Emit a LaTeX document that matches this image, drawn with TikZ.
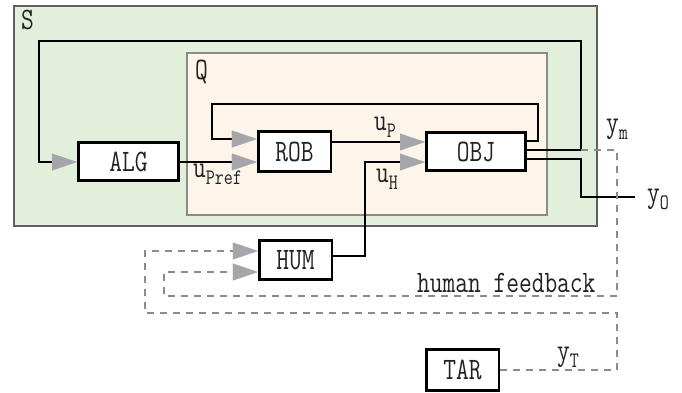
\documentclass[tikz,border=0pt]{standalone}
\usepackage{graphicx}
\usetikzlibrary{arrows.meta}
\definecolor{sysgreen}{HTML}{E2EFDA}
\definecolor{sysline}{HTML}{606060}
\definecolor{plantfill}{HTML}{FDF5EA}
\definecolor{plantline}{HTML}{8A8A8A}
\definecolor{tipgray}{HTML}{A5A5AB}
\definecolor{dashgray}{HTML}{8C8C8C}
\definecolor{inkgray}{HTML}{222222}
% narrow, tall lettering
\newcommand\tallt[1]{\scalebox{1.03}[1.3]{#1}}
\newcommand\sigsub[2]{\tallt{#1\raisebox{-6pt}{\fontsize{17}{20}\selectfont #2}}}
\begin{document}
\begin{tikzpicture}[x=1pt,y=-1pt,
  font=\fontsize{24}{28}\selectfont\ttfamily,
  text=inkgray,
  group/.style={draw=#1, line width=1.4pt, inner sep=0pt},
  blk/.style={draw=black, line width=2.6pt, fill=white, inner sep=0pt,
    minimum width=72.6pt, minimum height=40pt},
  wire/.style={line width=2pt, black},
  tip/.style={-{Triangle[length=25pt,width=17pt,color=tipgray,line width=0.1pt]}},
  fb/.style={line width=1.3pt, dashgray, dash pattern=on 7pt off 6pt},
  lbl/.style={anchor=base west, inner sep=0pt}]
\useasboundingbox (0,0) rectangle (682,392);

% containers
\node[group=sysline, fill=sysgreen, minimum width=583pt, minimum height=220pt] (S) at (305.5,116) {};
\node[group=plantline, fill=plantfill, minimum width=360pt, minimum height=162pt] (Q) at (367,134) {};
\node[lbl] (Slbl) at (21,29) {\tallt{S}};
\node[lbl] (Qlbl) at (195,79) {\tallt{Q}};

% blocks
\node[blk, minimum width=100.4pt, minimum height=38.4pt] (ALG) at (128.5,161.5) {\tallt{ALG}};
\node[blk, minimum height=40.4pt] (ROB) at (294.5,151.5) {\tallt{ROB}};
\node[blk, minimum width=99.4pt, minimum height=38.4pt] (OBJ) at (476,151.5) {\tallt{OBJ}};
\node[blk, minimum height=39.4pt] (HUM) at (295.5,260) {\tallt{HUM}};
\node[blk, minimum height=41pt] (TAR) at (462.5,370) {\tallt{TAR}};

% signal wires
\draw[wire,tip] (OBJ.east |- 0,150) -- coordinate[pos=1] (ymtap) (581,150)
  -- (581,41) -- (39,41) -- (39,162) -- (ALG.west |- 0,162);
\draw[wire,tip] (OBJ.east |- 0,141) -- (538,141) -- (538,104) -- (212,104)
  -- (212,139) -- (ROB.west |- 0,139);
\draw[wire,tip] (ALG.east |- 0,162) -- (ROB.west |- 0,162);
\draw[wire,tip] (ROB.east |- 0,142) -- (OBJ.west |- 0,142);
\draw[wire,tip] (HUM.east |- 0,256) -- (365,256) -- (365,162) -- (OBJ.west |- 0,162);
\coordinate (yOend) at (635,197);
\draw[wire] (OBJ.east |- 0,159) -- (581,159) -- (581,197) -- (yOend);

% feedback paths
\draw[fb,tip] (ymtap) -- (617,150) -- (617,296) -- (164,296) -- (164,272)
  -- (HUM.west |- 0,272);
\draw[fb,tip] (TAR.east) -- (617,370) -- (617,313) -- (145,313) -- (145,251)
  -- (HUM.west |- 0,251);

% signal labels
\node[lbl] (uP) at (374,130) {\sigsub{u}{P}};
\node[lbl] (uPref) at (193,177) {\sigsub{u}{Pref}};
\node[lbl] (uH) at (376,182) {\sigsub{u}{H}};
\node[lbl] (ym) at (606,132) {\sigsub{y}{m}};
\node[lbl] (yO) at (647,202) {\sigsub{y}{O}};
\node[lbl] (yT) at (557,360) {\sigsub{y}{T}};
\node[lbl] (hf) at (417,292) {\tallt{human feedback}};
\end{tikzpicture}
\end{document}
